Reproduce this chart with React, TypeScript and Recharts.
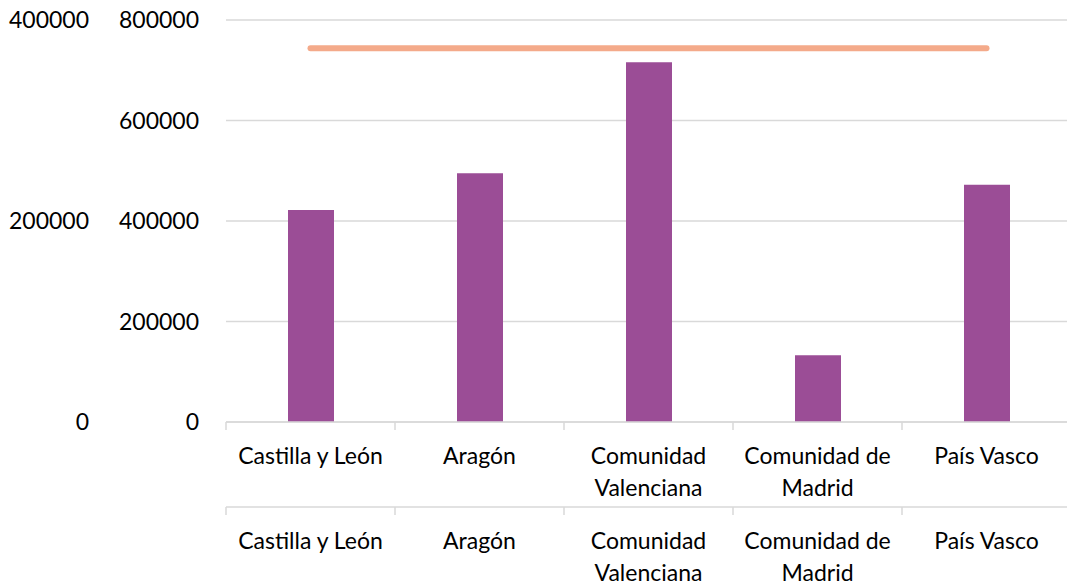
import React from "react";
import {
  ComposedChart,
  Bar,
  Line,
  XAxis,
  YAxis,
  CartesianGrid,
} from "recharts";

const regions = [
  "Castilla y León",
  "Aragón",
  "Comunidad Valenciana",
  "Comunidad de Madrid",
  "País Vasco",
];
const barValues = [422000, 495000, 716000, 133000, 472000];
const lineValues = [372000, 372000, 372000, 372000, 372000];
const barTicks = [0, 200000, 400000, 600000, 800000];
const lineTicks = [0, 200000, 400000];

const data = regions.map((region, i) => ({
  region,
  bar: barValues[i],
  line: lineValues[i],
}));

const WIDTH = 1071;
const HEIGHT = 587;
const LEFT = 226;
const FONT = "Lato, 'Open Sans', sans-serif";
const FS = 23;
const band = (WIDTH - LEFT) / regions.length;

let ctx: CanvasRenderingContext2D | null = null;
const measure = (s: string) => {
  if (!ctx) ctx = document.createElement("canvas").getContext("2d");
  if (!ctx) return s.length * FS * 0.5;
  ctx.font = `${FS}px ${FONT}`;
  return ctx.measureText(s).width;
};

// greedy word wrap to the category width
const wrap = (label: string, maxW: number) => {
  const words = label.split(" ");
  const lines: string[] = [];
  let cur = "";
  words.forEach((w) => {
    const next = cur ? cur + " " + w : w;
    if (cur && measure(next) > maxW) {
      lines.push(cur);
      cur = w;
    } else cur = next;
  });
  if (cur) lines.push(cur);
  return lines;
};

const CategoryTick = (props: any) => {
  const { x, y, payload, index, visibleTicksCount } = props;
  const left = x - band / 2;
  const isLast = index === visibleTicksCount - 1;
  const lines = wrap(String(payload.value), band - 8);
  return (
    <g>
      <line x1={left} y1={y} x2={left} y2={y + 8} stroke="#D9D9D9" strokeWidth={1.5} />
      {isLast && (
        <line x1={left + band} y1={y} x2={left + band} y2={y + 8} stroke="#D9D9D9" strokeWidth={1.5} />
      )}
      <text textAnchor="middle" fontSize={FS} fontFamily={FONT} fill="#000">
        {lines.map((ln, i) => (
          <tspan key={i} x={x} y={y + 42 + i * 32}>
            {ln}
          </tspan>
        ))}
      </text>
    </g>
  );
};

export default function App() {
  return (
    <div
      style={{
        position: "absolute",
        left: 0,
        top: 0,
        width: 1067,
        height: HEIGHT,
        overflow: "hidden",
        background: "#fff",
      }}
    >
      <ComposedChart
        width={WIDTH}
        height={HEIGHT}
        data={data}
        margin={{ top: 20, right: 0, bottom: 0, left: 0 }}
      >
        <CartesianGrid
          vertical={false}
          yAxisId="bar"
          stroke="#D9D9D9"
          strokeWidth={1.5}
        />
        <XAxis
          xAxisId="a"
          dataKey="region"
          height={85}
          interval={0}
          tickSize={0}
          tickMargin={0}
          axisLine={{ stroke: "#D9D9D9", strokeWidth: 1.5 }}
          tick={<CategoryTick />}
        />
        <XAxis
          xAxisId="b"
          dataKey="region"
          height={80}
          interval={0}
          tickSize={0}
          tickMargin={0}
          axisLine={{ stroke: "#D9D9D9", strokeWidth: 1.5 }}
          tick={<CategoryTick />}
        />
        <YAxis
          yAxisId="bar"
          width={126}
          domain={[0, 800000]}
          ticks={barTicks}
          axisLine={false}
          tickLine={false}
          tickSize={0}
          tickMargin={27}
          tick={{ fill: "#000", fontSize: FS, fontFamily: FONT }}
        />
        <YAxis
          yAxisId="line"
          width={100}
          domain={[0, 400000]}
          ticks={lineTicks}
          axisLine={false}
          tickLine={false}
          tickSize={0}
          tickMargin={11}
          tick={{ fill: "#000", fontSize: FS, fontFamily: FONT }}
        />
        <Bar
          xAxisId="a"
          yAxisId="bar"
          dataKey="bar"
          fill="#9B4D96"
          barSize={46}
          isAnimationActive={false}
        />
        <Line
          xAxisId="b"
          yAxisId="line"
          dataKey="line"
          stroke="#F4AA8A"
          strokeWidth={6}
          strokeLinecap="round"
          dot={false}
          activeDot={false}
          isAnimationActive={false}
        />
      </ComposedChart>
    </div>
  );
}
